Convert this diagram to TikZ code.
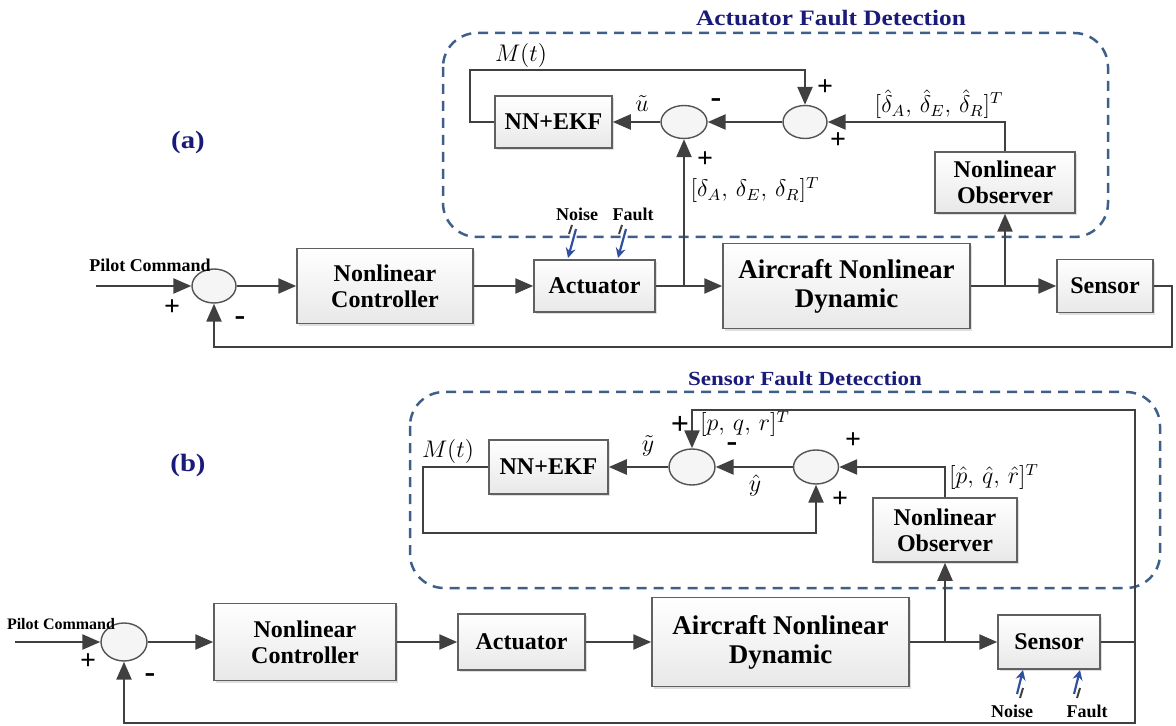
\documentclass[tikz,border=0pt]{standalone}
\usepackage{fontspec}
\setmainfont{Liberation Serif}
\newfontfamily\titlefont[FakeStretch=1.15]{Liberation Serif}
\usetikzlibrary{arrows.meta,shapes.geometric,shadows}
\definecolor{linec}{HTML}{404040}
\definecolor{dashc}{HTML}{3E5F8A}
\definecolor{titlec}{HTML}{1A1A7A}
\definecolor{noisec}{HTML}{2F4F9F}
\begin{document}
\begin{tikzpicture}[x=0.5pt,y=-0.5pt,
  blk/.style={draw=gray!75!black, line width=0.75pt, top color=white, bottom color=gray!18,
    drop shadow={shadow xshift=1.2pt,shadow yshift=-1.2pt,fill=gray!50,opacity=0.5},
    font=\fontsize{12}{13}\selectfont\bfseries, align=center, inner sep=0pt},
  bigblk/.style={blk, font=\fontsize{13.5}{14.5}\selectfont\bfseries},
  sumc/.style={ellipse, draw=gray!65!black, line width=0.7pt, fill=gray!8, inner sep=0pt},
  wire/.style={draw=linec, line width=1.2pt},
  arr/.style={wire, -{Triangle[length=9pt,width=7.5pt]}},
  sign/.style={font=\fontsize{14}{14}\selectfont\bfseries, text=black, inner sep=0pt},
  minus/.style={font=\fontsize{16}{16}\selectfont\bfseries, text=black, inner sep=0pt},
  lab/.style={font=\fontsize{12}{14}\selectfont, inner sep=0pt},
  small/.style={font=\fontsize{9}{10}\selectfont\bfseries, inner sep=0pt},
  dbox/.style={draw=dashc, line width=1.25pt, dash pattern=on 5pt off 3.5pt, rounded corners=17pt},
  ttl/.style={font=\titlefont\bfseries, text=titlec, inner sep=0pt},
  ntick/.style={draw=gray!50!black, line width=1pt},
  narr/.style={draw=noisec, line width=1.1pt, -{Stealth[length=5pt,width=5pt]}}
]
\useasboundingbox (0,0) rectangle (1176,726);

% ================= (a) =================
\node[ttl, font=\fontsize{11}{12}\titlefont\bfseries] (t1) at (831,18) {Actuator Fault Detection};
\node[ttl, font=\fontsize{12.5}{13}\titlefont\bfseries] (la) at (188,142) {(a)};
\draw[dbox] (443,33) rectangle (1108,237);

\node[sumc, minimum width=22pt, minimum height=17pt] (ps1) at (214,286) {};
\node[blk, minimum width=88pt, minimum height=37.5pt] (nc1) at (385,286) {Nonlinear\\Controller};
\node[blk, minimum width=60.5pt, minimum height=26pt] (act1) at (594.5,286) {Actuator};
\node[bigblk, minimum width=123.5pt, minimum height=42.5pt] (ac1) at (846.5,286) {Aircraft Nonlinear\\Dynamic};
\node[blk, minimum width=48pt, minimum height=26.5pt] (sn1) at (1105,286) {Sensor};

\node[blk, minimum width=58.5pt, minimum height=26pt] (nn1) at (553.5,122) {NN+EKF};
\node[sumc, minimum width=23pt, minimum height=16.5pt] (sa1) at (684,122) {};
\node[sumc, minimum width=22pt, minimum height=16.5pt] (sb1) at (805,122) {};
\node[blk, minimum width=70pt, minimum height=30.5pt] (obs1) at (1005,182.5) {Nonlinear\\Observer};

\coordinate (in1) at (96,286);
\coordinate (j1) at (684,286);
\coordinate (j2) at (1005,286);
\coordinate (fb1) at (1172,347);
\coordinate (m1) at (470,70);

\draw[arr] (in1) -- (ps1.west);
\draw[arr] (ps1.east) -- (nc1.west);
\draw[arr] (nc1.east) -- (act1.west);
\draw[wire] (act1.east) -- (j1);
\draw[arr] (j1) -- (ac1.west);
\draw[wire] (ac1.east) -- (j2);
\draw[arr] (j2) -- (sn1.west);
\draw[arr] (sn1.east) -| (fb1) -| (ps1.south);
\draw[arr] (j1) -- (sa1.south);
\draw[arr] (j2) -- (obs1.south);
\draw[arr] (obs1.north) |- (sb1.east);
\draw[arr] (sb1.west) -- (sa1.east);
\draw[arr] (sa1.west) -- (nn1.east);
\draw[arr] (nn1.west) -| (m1) -| (sb1.north);

\node[small] (pc1) at (150,265) {Pilot Command};
\node[sign] (p1) at (172,308) {+};
\node[minus] (m1s) at (240,321) {-};
\node[lab] (mt1) at (521,56) {$M(t)$};
\node[lab] (u1) at (642,104) {$\tilde{u}$};
\node[minus] (p2) at (716,103) {-};
\node[sign] (p3) at (705,160) {+};
\node[lab] (d1) at (755,190) {$[\delta_A,\,\delta_E,\,\delta_R]^T$};
\node[sign] (p4) at (825,88) {+};
\node[sign] (p5) at (838,141) {+};
\node[lab] (d2) at (939,104) {$[\hat{\delta}_A,\,\hat{\delta}_E,\,\hat{\delta}_R]^T$};

\node[small] (no1) at (577,214) {Noise};
\node[small] (fa1) at (633,214) {Fault};
\draw[ntick] (572,225) -- (569,234);
\draw[narr] (576,229) -- (568,258);
\draw[ntick] (622,225) -- (619,234);
\draw[narr] (626,229) -- (618,258);

% ================= (b) =================
\node[ttl, font=\fontsize{10}{11}\titlefont\bfseries] (t2) at (805,379) {Sensor Fault Detecction};
\node[ttl, font=\fontsize{12.5}{13}\titlefont\bfseries] (lb) at (188,465) {(b)};
\draw[dbox] (410,392) rectangle (1160,588);

\node[sumc, minimum width=23pt, minimum height=19pt] (ps2) at (124,642) {};
\node[blk, minimum width=91pt, minimum height=38.5pt] (nc2) at (305,642) {Nonlinear\\Controller};
\node[blk, minimum width=63.5pt, minimum height=28pt] (act2) at (521.5,642) {Actuator};
\node[bigblk, minimum width=128.5pt, minimum height=44.5pt] (ac2) at (780.5,642) {Aircraft Nonlinear\\Dynamic};
\node[blk, minimum width=51pt, minimum height=27pt] (sn2) at (1049,642) {Sensor};

\node[blk, minimum width=59.5pt, minimum height=27pt] (nn2) at (548.5,467) {NN+EKF};
\node[sumc, minimum width=23pt, minimum height=18pt] (sa2) at (692,467) {};
\node[sumc, minimum width=22.5pt, minimum height=17pt] (sb2) at (816,467) {};
\node[blk, minimum width=72pt, minimum height=32pt] (obs2) at (945,530) {Nonlinear\\Observer};

\coordinate (in2) at (15,642);
\coordinate (j3) at (945,642);
\coordinate (r2) at (1135,642);
\coordinate (t2c) at (1135,410);
\coordinate (b2) at (1135,723);
\coordinate (m2) at (423,533);

\draw[arr] (in2) -- (ps2.west);
\draw[arr] (ps2.east) -- (nc2.west);
\draw[arr] (nc2.east) -- (act2.west);
\draw[arr] (act2.east) -- (ac2.west);
\draw[wire] (ac2.east) -- (j3);
\draw[arr] (j3) -- (sn2.west);
\draw[wire] (sn2.east) -- (r2);
\draw[arr] (r2) -- (t2c) -| (sa2.north);
\draw[arr] (r2) -- (b2) -| (ps2.south);
\draw[arr] (j3) -- (obs2.south);
\draw[arr] (obs2.north) |- (sb2.east);
\draw[arr] (sb2.west) -- (sa2.east);
\draw[arr] (sa2.west) -- (nn2.east);
\draw[arr] (nn2.west) -| (m2) -| (sb2.south);

\node[small, font=\fontsize{8}{9}\selectfont\bfseries] (pc2) at (61,624) {Pilot Command};
\node[sign] (q1) at (88,662) {+};
\node[minus] (q2) at (150,678) {-};
\node[lab] (mt2) at (448,452) {$M(t)$};
\node[lab] (y1) at (648,446) {$\tilde{y}$};
\node[sign, font=\fontsize{16}{16}\selectfont\bfseries] (q3) at (680,425) {+};
\node[lab] (pq1) at (745,424) {$[p,\,q,\,r]^T$};
\node[minus] (q4) at (732,447) {-};
\node[lab] (y2) at (755,485) {$\hat{y}$};
\node[sign] (q5) at (853,441) {+};
\node[sign] (q6) at (840,500) {+};
\node[lab] (pq2) at (994,477) {$[\hat{p},\,\hat{q},\,\hat{r}]^T$};

\node[small] (no2) at (1012,711) {Noise};
\node[small] (fa2) at (1087,711) {Fault};
\draw[narr] (1017,694) -- (1023,670);
\draw[ntick] (1023,688) -- (1020,698);
\draw[narr] (1074,694) -- (1080,670);
\draw[ntick] (1080,688) -- (1077,698);
\end{tikzpicture}
\end{document}
